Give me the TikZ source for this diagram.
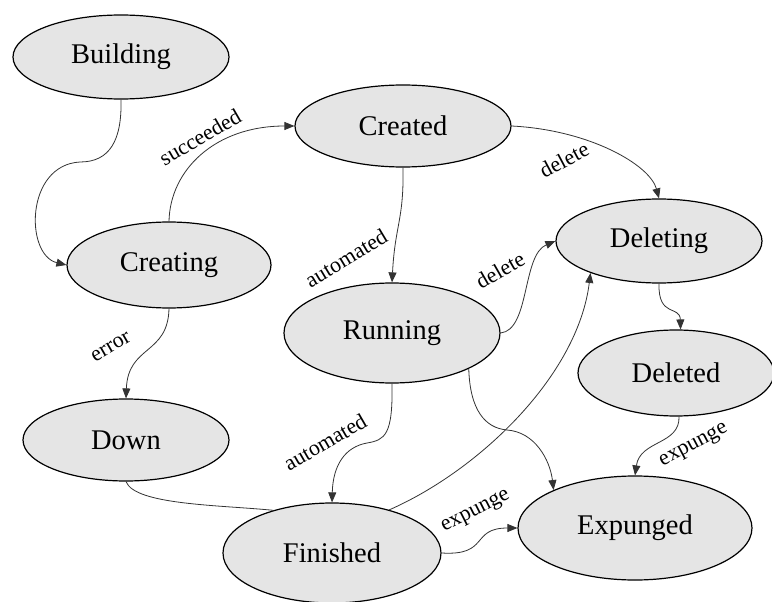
\documentclass[tikz,border=0pt]{standalone}
\usepackage{fontspec}
\setmainfont{Liberation Serif}
\usetikzlibrary{shapes.geometric,arrows.meta}
\definecolor{stategray}{gray}{0.9}
\definecolor{edgegray}{gray}{0.2}
\begin{document}
\begin{tikzpicture}[x=1pt,y=-1pt,
  state/.style={ellipse,draw=black,line width=1.2pt,fill=stategray,inner sep=0pt,
    font=\fontsize{28.5}{32}\selectfont},
  trans/.style={draw=edgegray,line width=0.8pt,-{Triangle[length=10pt,width=8pt]}},
  plainedge/.style={draw=edgegray,line width=0.8pt},
  lbl/.style={font=\fontsize{22}{24}\selectfont,inner sep=0pt}]

\fill[white] (0,0) rectangle (772,602);
\useasboundingbox (0,0) rectangle (772,602);

% states
\node[state,minimum width=216pt,minimum height=84pt]  (building) at (121,57)  {Building};
\node[state,minimum width=216pt,minimum height=82pt]  (created)  at (403,126) {Created};
\node[state,minimum width=204pt,minimum height=86pt]  (creating) at (169,265) {Creating};
\node[state,minimum width=206pt,minimum height=84pt]  (deleting) at (659,241) {Deleting};
\node[state,minimum width=216pt,minimum height=100pt] (running)  at (392,333) {Running};
\node[state,minimum width=196pt,minimum height=86pt]  (deleted)  at (676,373) {Deleted};
\node[state,minimum width=206pt,minimum height=82pt]  (down)     at (126,440) {Down};
\node[state,minimum width=218pt,minimum height=100pt] (finished) at (332,553) {Finished};
\node[state,minimum width=234pt,minimum height=104pt] (expunged) at (635,528) {Expunged};

% transitions
\draw[trans] (building.south) .. controls (122,140) and (110,162) .. (80,162)
  .. controls (25,165) and (25,255) .. (creating.west);
\draw[trans] (creating.north) .. controls (170,170) and (215,126) .. (created.west);
\draw[trans] (created.south) .. controls (404,220) and (395,225) .. (running.north);
\draw[trans] (created.east) .. controls (590,130) and (650,165) .. (deleting.north);
\draw[trans] (running.east) .. controls (530,330) and (522,255) .. (deleting.west);
\draw[trans] (running.south) .. controls (393,435) and (385,440) .. (367,443)
  .. controls (345,447) and (333,465) .. (finished.north);
\draw[trans] (running.-25) .. controls (470,410) and (485,428) .. (507,430)
  .. controls (535,432) and (550,460) .. (expunged.155);
\draw[trans] (finished.37) .. controls (480,470) and (578,375) .. (deleting.-155);
\draw[plainedge] (down.south) .. controls (135,505) and (220,505) .. (finished.144);
\draw[trans] (deleting.south) .. controls (658,318) and (680,305) .. (deleted.84);
\draw[trans] (deleted.-86) .. controls (680,445) and (640,440) .. (expunged.north);
\draw[trans] (finished.east) .. controls (490,556) and (470,528) .. (expunged.west);
\draw[trans] (creating.south) .. controls (168,355) and (128,345) .. (down.north);

% transition labels
\node[lbl,rotate=30] (lsucc)  at (200,137) {succeeded};
\node[lbl,rotate=31] (lauto1) at (346,258) {automated};
\node[lbl,rotate=28] (ldel1)  at (564,160) {delete};
\node[lbl,rotate=30] (ldel2)  at (500,270) {delete};
\node[lbl,rotate=30] (lerr)   at (111,347) {error};
\node[lbl,rotate=30] (lauto2) at (325,442) {automated};
\node[lbl,rotate=28] (lexp1)  at (694,446) {expunge};
\node[lbl,rotate=27] (lexp2)  at (476,512) {expunge};
\end{tikzpicture}
\end{document}
